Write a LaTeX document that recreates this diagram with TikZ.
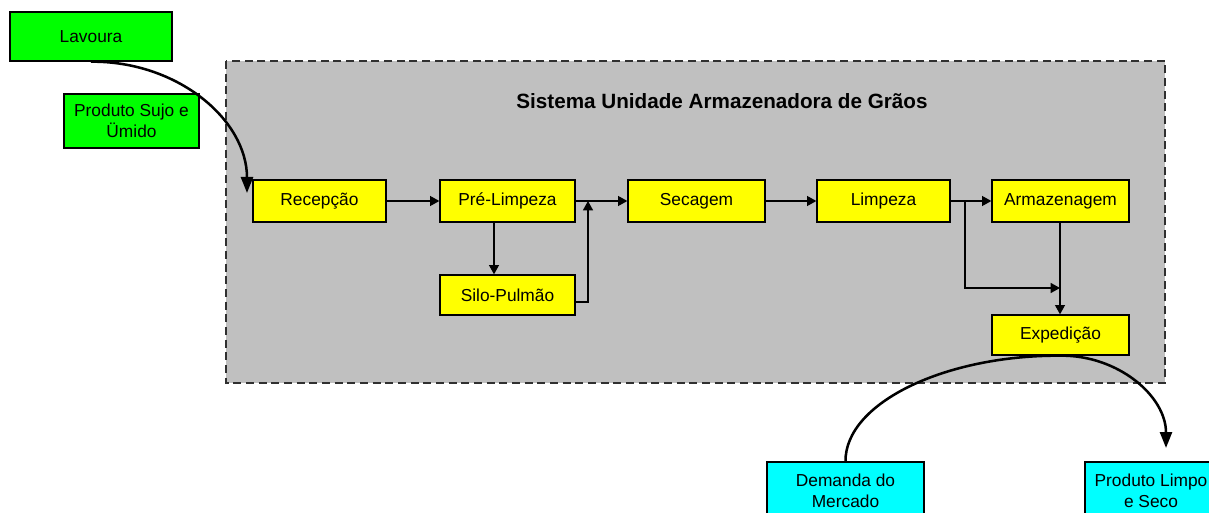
\documentclass[tikz,border=0pt]{standalone}
\usepackage{fontspec}
\setmainfont{Liberation Sans}
\usetikzlibrary{arrows.meta,calc}
\definecolor{gboxc}{HTML}{00FF00}
\definecolor{yboxc}{HTML}{FFFF00}
\definecolor{cboxc}{HTML}{00FFFF}
\definecolor{panelc}{HTML}{C0C0C0}
\definecolor{edgec}{HTML}{303030}
\begin{document}
\begin{tikzpicture}[x=0.75pt,y=-0.75pt,
  blk/.style={draw=black,line width=1pt,inner sep=0pt,align=center,
    font=\fontsize{13}{15.5}\selectfont},
  gbox/.style={blk,fill=gboxc},
  ybox/.style={blk,fill=yboxc},
  cbox/.style={blk,fill=cboxc},
  conn/.style={line width=1pt,-{Triangle[length=7pt,width=7.5pt]}},
  bigarrow/.style={line width=1.9pt,-{Triangle[length=12pt,width=9pt]}},
  panel/.style={draw=edgec,line width=1.1pt,dash pattern=on 6pt off 3.5pt,fill=panelc}]
\useasboundingbox (0,0) rectangle (1209,513);
\clip (0,0) rectangle (1209,513);
% panel
\draw[panel] (226,61) rectangle (1165,383);
\node[font=\fontsize{15.5}{18}\selectfont\bfseries] (title) at (722,101) {Sistema Unidade Armazenadora de Grãos};
% outside nodes
\node[gbox,minimum width=121.5pt,minimum height=36.75pt] (lav) at (91,36.5) {Lavoura};
\node[gbox,minimum width=101.25pt,minimum height=40.5pt] (psu) at (131.5,121) {Produto Sujo e\\Ümido};
% process nodes
\node[ybox,minimum width=99.75pt,minimum height=31.5pt] (rec) at (319.5,201) {Recepção};
\node[ybox,minimum width=101.25pt,minimum height=31.5pt] (pre) at (507.5,201) {Pré-Limpeza};
\node[ybox,minimum width=102.75pt,minimum height=31.5pt] (sec) at (696.5,201) {Secagem};
\node[ybox,minimum width=99.75pt,minimum height=31.5pt] (limp) at (883.5,201) {Limpeza};
\node[ybox,minimum width=102.75pt,minimum height=31.5pt] (arm) at (1060.5,201) {Armazenagem};
\node[ybox,minimum width=101.25pt,minimum height=30pt] (silo) at (507.5,295) {Silo-Pulmão};
\node[ybox,minimum width=102.75pt,minimum height=30pt] (exp) at (1060.5,335) {Expedição};
% bottom nodes
\node[cbox,minimum width=117.75pt,minimum height=43.5pt] (dem) at (845.5,491) {Demanda do\\Mercado};
\node[cbox,minimum width=99pt,minimum height=43.5pt] (pls) at (1151,491) {Produto Limpo\\e Seco};
% junction coordinates
\coordinate (j1) at (588,201);
\coordinate (j2) at (965,201);
\coordinate (j3) at (1060,288);
\coordinate (recin) at (247,193);
\coordinate (plsin) at (1166,448);
% connectors
\draw[conn] (rec.east) -- (pre.west);
\draw[conn] (pre.east) -- (sec.west);
\draw[conn] ($(pre.south)+(-13.5,0)$) -- ($(silo.north)+(-13.5,0)$);
\draw[conn] ($(silo.east)+(0,7)$) -| (j1);
\draw[conn] (sec.east) -- (limp.west);
\draw[conn] (limp.east) -- (arm.west);
\draw[conn] (j2) |- (j3);
\draw[conn] ($(arm.south)+(-0.5,0)$) -- ($(exp.north)+(-0.5,0)$);
% curved arrows
\draw[bigarrow] (lav.south) .. controls (178,61) and (247,120) .. (recin);
\draw[bigarrow] (dem.north) .. controls (845,403) and (945,355) .. (exp.south)
  .. controls (1118,355) and (1166,396) .. (plsin);
\end{tikzpicture}
\end{document}
